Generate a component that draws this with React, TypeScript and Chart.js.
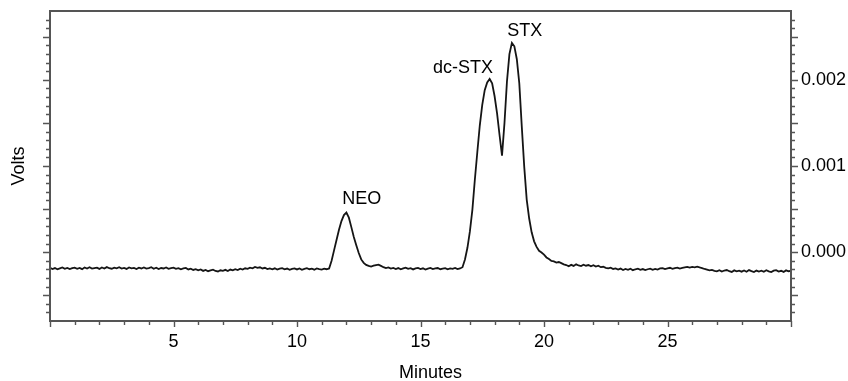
import { useEffect, useRef } from "react";
import { Chart, registerables } from "chart.js";

Chart.register(...registerables);

// Sampling of the detector trace
const START_MIN = 0;
const STEP_MIN = 0.1;

// Detector signal in microvolts, one value every 0.1 min from 0.0 to 30.0 min
const signalMicroVolts = [
  -182, -196, -185, -199, -188, -178, -194, -184, -197, -186,
  -180, -193, -183, -198, -179, -190, -176, -192, -185, -181,
  -195, -178, -190, -174, -187, -193, -180, -188, -176, -191,
  -183, -195, -178, -189, -184, -197, -181, -190, -179, -192,
  -186, -176, -193, -182, -197, -185, -190, -179, -194, -187,
  -181, -195, -186, -199, -190, -184, -201, -192, -207, -198,
  -212, -201, -218, -207, -222, -213, -204, -219, -225, -211,
  -217, -206, -220, -203, -212, -198, -208, -193, -203, -188,
  -195, -180, -188, -172, -183, -176, -190, -182, -197, -189,
  -200, -188, -203, -192, -186, -199, -191, -205, -194, -189,
  -201, -190, -206, -195, -187, -199, -193, -204, -189, -197,
  -203, -192, -199, -190, -100, 20, 140, 260, 360, 430,
  460, 400, 290, 175, 80, -10, -85, -125, -148, -160,
  -168, -158, -150, -145, -160, -175, -186, -178, -192, -184,
  -196, -185, -199, -188, -180, -195, -187, -201, -190, -184,
  -197, -188, -202, -191, -183, -198, -190, -185, -199, -192,
  -186, -200, -189, -195, -184, -198, -190, -175, -85, 50,
  240, 490, 840, 1160, 1470, 1710, 1880, 1970, 2010, 1960,
  1810, 1610, 1360, 1120, 1500, 1980, 2300, 2430, 2390, 2240,
  1960, 1460, 990, 610, 390, 230, 125, 60, 15, -5,
  -30, -62, -80, -102, -108, -122, -115, -128, -142, -150,
  -165, -148, -160, -142, -155, -163, -146, -158, -150, -165,
  -152, -168, -158, -175, -170, -182, -188, -180, -196, -190,
  -203, -191, -208, -196, -205, -192, -210, -199, -193, -206,
  -197, -209, -199, -192, -206, -195, -202, -190, -186, -197,
  -189, -182, -194, -185, -180, -191, -183, -176, -172, -180,
  -171, -176, -168, -178, -185, -196, -204, -212, -206, -217,
  -223, -210, -226, -214, -208, -222, -230, -212, -224, -215,
  -227, -213, -228, -209, -221, -231, -214, -225, -216, -229,
  -211, -224, -232, -215, -209, -226, -217, -230, -212, -222,
  -218,
];

const xTickValues = [5, 10, 15, 20, 25];
const yTickValues = [0, 0.001, 0.002];

const peakNames = ["NEO", "dc-STX", "STX"];
const peakLabelMinutes = [12.62, 16.72, 19.22];
const peakLabelVolts = [0.000555, 0.002085, 0.002515];

const X_MIN = 0;
const X_MAX = 30;
const Y_MIN = -0.0008;
const Y_MAX = 0.0028;

const FONT = '"Liberation Sans", Arial, Helvetica, sans-serif';
const TEXT_COLOR = "#000000";
const FRAME_COLOR = "#555555";

const zeroPadding = (s: any) => {
  s.paddingTop = 0;
  s.paddingBottom = 0;
  s.paddingLeft = 0;
  s.paddingRight = 0;
};

const framePlugin = {
  id: "frameAndLabels",
  afterDraw(chart: any) {
    const { ctx, chartArea: a, scales } = chart;
    const xs = scales.x;
    const ys = scales.y;
    ctx.save();
    // frame
    ctx.strokeStyle = FRAME_COLOR;
    ctx.lineWidth = 2;
    ctx.strokeRect(a.left, a.top, a.right - a.left, a.bottom - a.top);

    // y tick marks, left and right (units of 1e-4 V)
    ctx.lineWidth = 1.4;
    ctx.beginPath();
    for (let m = -7; m <= 27; m++) {
      const py = Math.round(ys.getPixelForValue(m * 0.0001)) + 0.5;
      const len = m % 5 === 0 ? 7 : 4;
      ctx.moveTo(a.left, py);
      ctx.lineTo(a.left - len, py);
      ctx.moveTo(a.right, py);
      ctx.lineTo(a.right + len, py);
    }
    // x tick marks, every minute
    for (let t = X_MIN; t <= X_MAX; t++) {
      const px = Math.round(xs.getPixelForValue(t)) + 0.5;
      const len = t % 5 === 0 ? 6 : 4;
      ctx.moveTo(px, a.bottom);
      ctx.lineTo(px, a.bottom + len);
    }
    ctx.stroke();

    // texts
    ctx.fillStyle = TEXT_COLOR;
    ctx.font = `18px ${FONT}`;
    ctx.textBaseline = "alphabetic";
    ctx.textAlign = "center";
    for (let i = 0; i < peakNames.length; i++) {
      ctx.fillText(
        peakNames[i],
        xs.getPixelForValue(peakLabelMinutes[i]),
        ys.getPixelForValue(peakLabelVolts[i])
      );
    }
    // axis titles
    ctx.fillText("Minutes", (a.left + a.right) / 2 + 10, 378);
    ctx.save();
    ctx.translate(23.5, (a.top + a.bottom) / 2);
    ctx.rotate(-Math.PI / 2);
    ctx.fillText("Volts", 0, 0);
    ctx.restore();
    ctx.restore();
  },
};

export default function App() {
  const canvasRef = useRef<HTMLCanvasElement | null>(null);

  useEffect(() => {
    const canvas = canvasRef.current;
    if (!canvas) return;
    const points = signalMicroVolts.map((uv, i) => ({
      x: START_MIN + i * STEP_MIN,
      y: uv / 1e6,
    }));
    const chart = new Chart(canvas, {
      type: "line",
      data: {
        datasets: [
          {
            data: points,
            borderColor: "#151515",
            borderWidth: 1.8,
            pointRadius: 0,
            tension: 0,
            fill: false,
            yAxisID: "y",
          },
        ],
      },
      options: {
        animation: false,
        responsive: false,
        devicePixelRatio: 1,
        layout: { padding: { top: 11, left: 0, right: 0, bottom: 0 } },
        plugins: { legend: { display: false }, tooltip: { enabled: false } },
        scales: {
          x: {
            type: "linear",
            position: "bottom",
            min: X_MIN,
            max: X_MAX,
            grid: { display: false, drawTicks: false },
            border: { display: false },
            ticks: {
              font: { family: FONT, size: 18 },
              color: TEXT_COLOR,
              padding: 10,
              maxRotation: 0,
              autoSkip: false,
            },
            afterBuildTicks: (s: any) => {
              s.ticks = xTickValues.map((v) => ({ value: v }));
            },
            afterFit: (s: any) => {
              s.height = 60;
              zeroPadding(s);
            },
          },
          y: {
            type: "linear",
            position: "left",
            min: Y_MIN,
            max: Y_MAX,
            grid: { display: false, drawTicks: false },
            border: { display: false },
            ticks: { display: false },
            afterFit: (s: any) => {
              s.width = 50;
              zeroPadding(s);
            },
          },
          y2: {
            type: "linear",
            position: "right",
            min: Y_MIN,
            max: Y_MAX,
            grid: { display: false, drawTicks: false },
            border: { display: false },
            ticks: {
              font: { family: FONT, size: 18 },
              color: TEXT_COLOR,
              padding: 10,
              callback: (v: any) => Number(v).toFixed(3),
            },
            afterBuildTicks: (s: any) => {
              s.ticks = yTickValues.map((v) => ({ value: v }));
            },
            afterFit: (s: any) => {
              s.width = 57;
              zeroPadding(s);
            },
          },
        },
      },
      plugins: [framePlugin],
    });
    return () => chart.destroy();
  }, []);

  return (
    <div style={{ position: "absolute", left: 0, top: 0, width: 848, height: 381, background: "#ffffff" }}>
      <canvas ref={canvasRef} width={848} height={381} style={{ width: 848, height: 381, display: "block" }} />
    </div>
  );
}
